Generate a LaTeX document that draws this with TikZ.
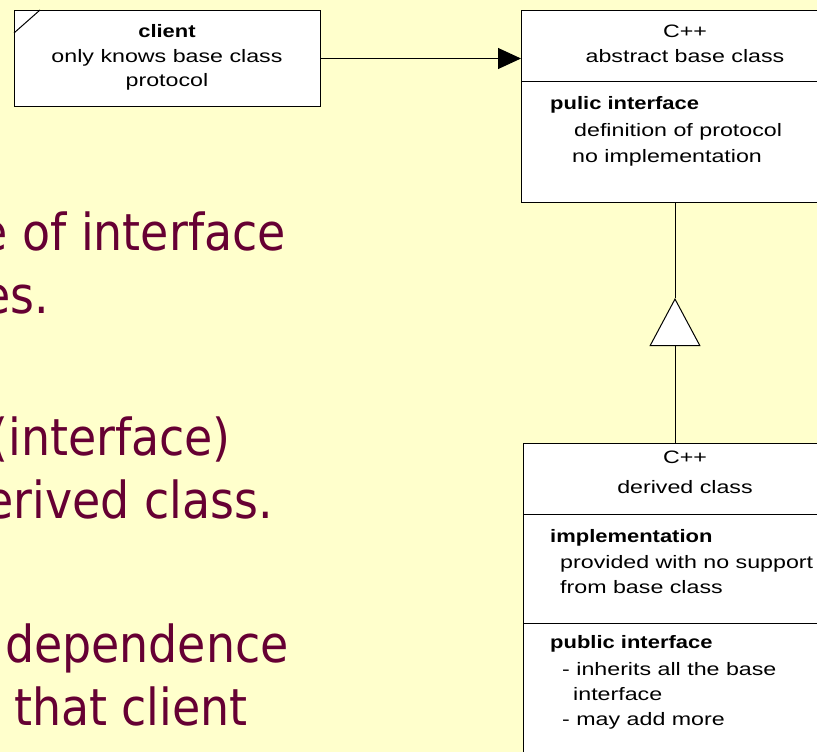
\documentclass[tikz,border=0pt]{standalone}
\usepackage{fontspec}
\setmainfont{Liberation Sans}
\newfontfamily\diagr[FakeStretch=1.29]{Liberation Sans}
\newfontfamily\diagb[FakeStretch=1.22]{Liberation Sans Bold}
\newfontfamily\slide{DejaVu Sans Condensed}
\usetikzlibrary{arrows.meta}
\definecolor{bgyellow}{HTML}{FFFFCC}
\definecolor{slidemaroon}{HTML}{660033}
\tikzset{
  box/.style={draw=black, fill=white, line width=1pt, inner sep=0pt, anchor=north west},
  lbl/.style={inner sep=0pt, anchor=base west, font=\diagr\fontsize{18}{22}\selectfont, text=black},
  clbl/.style={inner sep=0pt, anchor=base, font=\diagr\fontsize{18}{22}\selectfont, text=black},
  blbl/.style={inner sep=0pt, anchor=base west, font=\diagb\fontsize{18}{22}\selectfont, text=black},
  cblbl/.style={inner sep=0pt, anchor=base, font=\diagb\fontsize{18}{22}\selectfont, text=black},
  slidetxt/.style={inner sep=0pt, anchor=base east, font=\slide\fontsize{51}{60}\selectfont, text=slidemaroon},
  conn/.style={line width=1pt, draw=black},
}
\begin{document}
\begin{tikzpicture}[x=1pt,y=-1pt]
\useasboundingbox (0,0) rectangle (817,752);
\clip (0,0) rectangle (817,752);
\fill[bgyellow] (0,0) rectangle (817,752);

% slide text (partly hidden)
\node[slidetxt] (s1) at (286,250) {e of interface};
\node[slidetxt] (s2) at (49,313) {es.};
\node[slidetxt] (s3) at (231,455) {(interface)};
\node[slidetxt] (s4) at (273,518) {erived class.};
\node[slidetxt] (s5) at (289,662) {dependence};
\node[slidetxt] (s6) at (248,725) {that client};

% client box
\node[box, minimum width=306pt, minimum height=96pt] (client) at (14,10) {};
\draw[conn] ([yshift=-23pt]client.north west) -- ([xshift=26pt]client.north west);
\node[cblbl] (c1) at (167,38) {client};
\node[clbl] (c2) at (167,62.5) {only knows base class};
\node[clbl] (c3) at (167,87) {protocol};

% abstract base class box
\node[box, minimum width=330pt, minimum height=192pt] (base) at (521,10) {};
\draw[conn] ([yshift=-72pt]base.north west) -- ([yshift=-72pt]base.north east);
\node[clbl] (b1) at (685,38) {C++};
\node[clbl] (b2) at (685,63) {abstract base class};
\node[blbl] (b3) at (550,110) {pulic interface};
\node[lbl] (b4) at (574,136) {definition of protocol};
\node[lbl] (b5) at (572,162) {no implementation};

% derived class box
\node[box, minimum width=326pt, minimum height=340pt] (derived) at (523,443) {};
\draw[conn] ([yshift=-71pt]derived.north west) -- ([yshift=-71pt]derived.north east);
\draw[conn] ([yshift=-180pt]derived.north west) -- ([yshift=-180pt]derived.north east);
\node[clbl] (d1) at (685,463) {C++};
\node[clbl] (d2) at (685,493) {derived class};
\node[blbl] (d3) at (550,542) {implementation};
\node[lbl] (d4) at (560,568) {provided with no support};
\node[lbl] (d5) at (560,593) {from base class};
\node[blbl] (d6) at (550,648) {public interface};
\node[lbl] (d7) at (562,675) {- inherits all the base};
\node[lbl] (d8) at (573,700) {interface};
\node[lbl] (d9) at (562,725) {- may add more};

% connectors
\draw[conn, -{Triangle[length=23pt,width=21pt]}] (client.east) -- (client.east -| base.west);
\coordinate (apex) at (675,298);
\draw[conn] (base.south -| apex) -- (apex);
\draw[conn, -{Triangle[open, fill=white, length=48pt, width=51pt]}] (derived.north -| apex) -- (apex);
\end{tikzpicture}
\end{document}
